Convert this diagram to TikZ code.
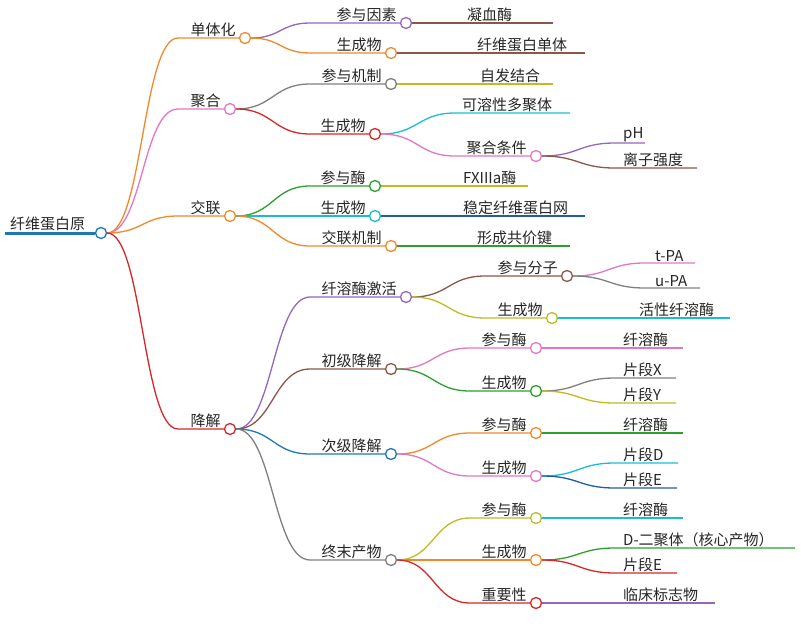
\documentclass[tikz,border=0pt]{standalone}
\usepackage{fontspec}
\setmainfont{Noto Sans CJK SC}
\usetikzlibrary{calc}
\definecolor{cor}{HTML}{F0892B}
\definecolor{cpk}{HTML}{E377C2}
\definecolor{cpu}{HTML}{9467BD}
\definecolor{cgr}{HTML}{7F7F7F}
\definecolor{crd}{HTML}{D62728}
\definecolor{cgn}{HTML}{2CA02C}
\definecolor{ccy}{HTML}{17BECF}
\definecolor{col}{HTML}{BCBD22}
\definecolor{cbr}{HTML}{8C564B}
\definecolor{cbl}{HTML}{1F77B4}
\definecolor{cnv}{HTML}{1F5FA0}
\tikzset{
 cnode/.style={circle,fill=white,line width=1.3pt,minimum size=11pt,inner sep=0pt},
 lab/.style={font=\fontsize{15}{17}\selectfont,inner sep=1pt,text=black!85},
 lw/.style={line width=1.3pt}
}
\newcommand\nd[7]{%
 \node[cnode,draw=#6] (#2) at (#4,#5) {};
 \begin{pgfonlayer}{background}
 \draw[#6,lw] let \p1=(#1.east),\p2=(#3,#5),\n1={(\x1+\x2)/2} in (\p1) .. controls (\n1,\y1) and (\n1,\y2) .. (\p2) -- (#2.west);
 \end{pgfonlayer}
 \node[lab,anchor=south east] (#2t) at ([xshift=-2pt]#2.west) {#7};
}
\newcommand\lf[8]{%
 \coordinate (#2) at (#4,#5);
 \begin{pgfonlayer}{background}
 \draw[#6,lw] let \p1=(#1.east),\p2=(#3,#5),\n1={(\x1+\x2)/2} in (\p1) .. controls (\n1,\y1) and (\n1,\y2) .. (\p2) -- (#2);
 \end{pgfonlayer}
 \node[lab,anchor=south west] (#2t) at (#7,#5) {#8};
}
\pgfdeclarelayer{background}
\pgfsetlayers{background,main}
\begin{document}
\begin{tikzpicture}[x=1pt,y=-1pt]
\useasboundingbox (0,0) rectangle (801,630);
\node[cnode,draw=cbl] (root) at (101,233) {};
\coordinate (rs) at (5,233);
\begin{pgfonlayer}{background}
\draw[cbl,line width=3pt] (rs) -- (root.west);
\end{pgfonlayer}
\node[lab,anchor=south west] (roott) at (9,232) {纤维蛋白原};
% level 1
\nd{root}{a}{178}{245}{38}{cor}{单体化}
\nd{root}{b}{178}{230}{109}{cpk}{聚合}
\nd{root}{c}{178}{230}{216}{cor}{交联}
\nd{root}{d}{178}{230}{429}{crd}{降解}
% 单体化
\nd{a}{a1}{310}{406}{23}{cpu}{参与因素}
\nd{a}{a2}{310}{391}{53}{cor}{生成物}
\lf{a1}{a1l}{460}{553}{23}{cbr}{466}{凝血酶}
\lf{a2}{a2l}{460}{585}{53}{cbr}{476}{纤维蛋白单体}
% 聚合
\nd{b}{b1}{310}{391}{84}{cgr}{参与机制}
\nd{b}{b2}{310}{375}{134}{crd}{生成物}
\lf{b1}{b1l}{460}{553}{84}{col}{479}{自发结合}
\lf{b2}{b2a}{455}{570}{113}{ccy}{461}{可溶性多聚体}
\nd{b2}{b2b}{455}{536}{156}{cpk}{聚合条件}
\lf{b2b}{b2b1}{615}{645}{143}{cpu}{622}{pH}
\lf{b2b}{b2b2}{615}{697}{168}{cbr}{622}{离子强度}
% 交联
\nd{c}{c1}{310}{375}{186}{cgn}{参与酶}
\nd{c}{c2}{310}{375}{216}{ccy}{生成物}
\nd{c}{c3}{310}{391}{246}{cor}{交联机制}
\lf{c1}{c1l}{455}{528}{186}{col}{462}{FXIIIa酶}
\lf{c2}{c2l}{455}{585}{216}{cnv}{462}{稳定纤维蛋白网}
\lf{c3}{c3l}{460}{570}{246}{cgn}{476}{形成共价键}
% 降解
\nd{d}{d1}{310}{406}{297}{cpu}{纤溶酶激活}
\nd{d}{d2}{310}{391}{369}{cbr}{初级降解}
\nd{d}{d3}{310}{391}{454}{cbl}{次级降解}
\nd{d}{d4}{310}{391}{560}{cgr}{终末产物}
% 纤溶酶激活
\nd{d1}{e1}{485}{567}{276}{cbr}{参与分子}
\nd{d1}{e2}{485}{552}{318}{col}{生成物}
\lf{e1}{e1a}{645}{695}{263}{cpk}{654}{t-PA}
\lf{e1}{e1b}{645}{700}{288}{cgr}{654}{u-PA}
\lf{e2}{e2l}{630}{730}{318}{ccy}{638}{活性纤溶酶}
% 初级降解
\nd{d2}{f1}{470}{536}{348}{cpk}{参与酶}
\nd{d2}{f2}{470}{536}{391}{cgn}{生成物}
\lf{f1}{f1l}{615}{683}{348}{cpk}{622}{纤溶酶}
\lf{f2}{f2a}{615}{676}{378}{cgr}{622}{片段X}
\lf{f2}{f2b}{615}{676}{403}{col}{622}{片段Y}
% 次级降解
\nd{d3}{g1}{470}{536}{433}{cor}{参与酶}
\nd{d3}{g2}{470}{536}{476}{cpk}{生成物}
\lf{g1}{g1l}{615}{683}{433}{cgn}{622}{纤溶酶}
\lf{g2}{g2a}{615}{678}{463}{ccy}{622}{片段D}
\lf{g2}{g2b}{615}{677}{488}{cnv}{622}{片段E}
% 终末产物
\nd{d4}{h1}{470}{536}{518}{col}{参与酶}
\nd{d4}{h2}{470}{536}{560}{cor}{生成物}
\nd{d4}{h3}{470}{536}{603}{crd}{重要性}
\lf{h1}{h1l}{615}{683}{518}{ccy}{622}{纤溶酶}
\lf{h2}{h2a}{615}{795}{548}{cgn}{622}{D-二聚体（核心产物）}
\lf{h2}{h2b}{615}{677}{573}{crd}{622}{片段E}
\lf{h3}{h3l}{615}{715}{603}{cpu}{622}{临床标志物}
\end{tikzpicture}
\end{document}
